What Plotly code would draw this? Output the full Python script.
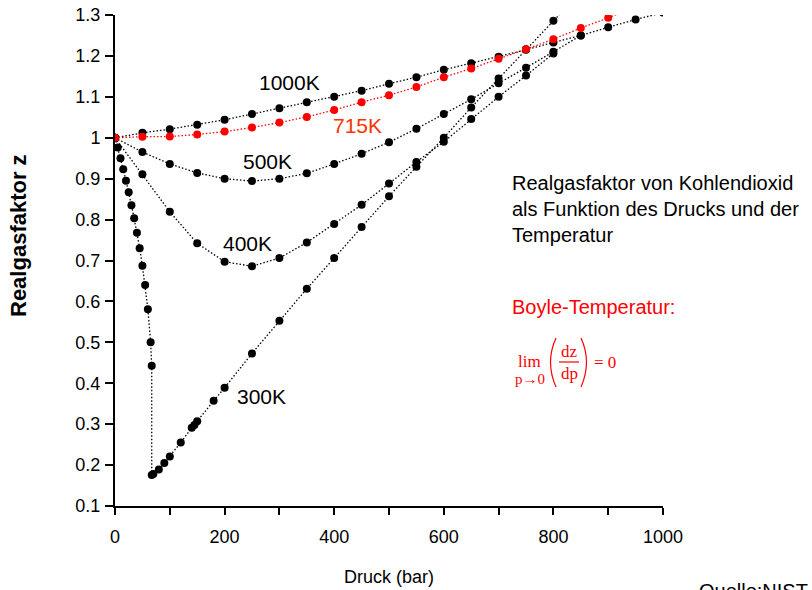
import plotly.graph_objects as go

# ---------------- data ----------------
p_300K = [0, 5, 10, 15, 20, 25, 30, 35, 40, 45, 50, 55, 60, 65, 67,
          67, 70, 80, 90, 100, 120, 140, 145, 150, 180, 200, 250, 300, 350,
          400, 450, 500, 550, 600, 650, 700, 750, 800, 850]
z_300K = [1.0, 0.976, 0.95, 0.923, 0.895, 0.867, 0.835, 0.803, 0.768, 0.73,
          0.687, 0.64, 0.581, 0.50, 0.443,
          0.176, 0.178, 0.189, 0.205, 0.221, 0.255, 0.291, 0.298, 0.307, 0.357,
          0.389, 0.473, 0.553, 0.631, 0.706, 0.782, 0.857, 0.929, 1.0, 1.074,
          1.145, 1.216, 1.286, 1.356]

p_400K = [0, 50, 100, 150, 200, 250, 300, 350, 400, 450, 500, 550, 600, 650,
          700, 750, 800]
z_400K = [1.0, 0.911, 0.819, 0.742, 0.697, 0.686, 0.706, 0.744, 0.789, 0.836,
          0.888, 0.941, 0.99, 1.046, 1.10, 1.152, 1.206]

p_500K = [0, 50, 100, 150, 200, 250, 300, 350, 400, 450, 500, 550, 600, 650,
          700, 750, 800, 850]
z_500K = [1.0, 0.965, 0.936, 0.914, 0.900, 0.894, 0.900, 0.913, 0.936, 0.961,
          0.989, 1.022, 1.058, 1.094, 1.133, 1.171, 1.21, 1.25]

p_1000K = [0, 50, 100, 150, 200, 250, 300, 350, 400, 450, 500, 550, 600, 650,
           700, 750, 800, 850, 900, 950, 1000]
z_1000K = [1.0, 1.012, 1.021, 1.032, 1.044, 1.058, 1.072, 1.087, 1.100, 1.115,
           1.132, 1.148, 1.166, 1.182, 1.198, 1.215, 1.233, 1.25, 1.27, 1.289,
           1.306]

p_715K = [0, 50, 100, 150, 200, 250, 300, 350, 400, 450, 500, 550, 600, 650,
          700, 750, 800, 850, 900, 950]
z_715K = [1.0, 1.0025, 1.003, 1.008, 1.015, 1.025, 1.037, 1.051, 1.068, 1.087,
          1.104, 1.124, 1.148, 1.169, 1.193, 1.216, 1.241, 1.268, 1.293, 1.32]

y_tickvals = [0.1, 0.2, 0.3, 0.4, 0.5, 0.6, 0.7, 0.8, 0.9, 1.0, 1.1, 1.2, 1.3]
y_ticktext = ["0.1", "0.2", "0.3", "0.4", "0.5", "0.6", "0.7", "0.8", "0.9",
              "1", "1.1", "1.2", "1.3"]
x_tickvals = [0, 200, 400, 600, 800, 1000]
x_ticktext = ["0", "200", "400", "600", "800", "1000"]

# ---------------- layout geometry (screen pixels; body margin removed) ----
W, H = 812, 590
SL, SR, ST, SB = 115, 663, 15, 506          # plot area on screen
ML, MT = SL, ST
MR, MB = W - SR, H - SB
PW, PH = SR - SL, SB - ST

def px(x):
    return (x - SL) / PW

def py(y):
    return (SB - y) / PH

FONT = "Liberation Sans, Arial, sans-serif"
SERIF = "Liberation Serif, Times New Roman, serif"
RED = "#FF0000"

fig = go.Figure()

def add_series(p, z, color):
    fig.add_trace(go.Scatter(
        x=p, y=z, mode="lines+markers",
        line=dict(color=color, width=1.3, dash="1.5px,2px"),
        marker=dict(color=color, size=8, line=dict(width=0)),
        showlegend=False, hoverinfo="x+y"))

add_series(p_300K, z_300K, "black")
add_series(p_400K, z_400K, "black")
add_series(p_500K, z_500K, "black")
add_series(p_1000K, z_1000K, "black")
add_series(p_715K, z_715K, RED)

annotations = []
def label(text, x, y, color="black", size=21):
    annotations.append(dict(text=text, x=x, y=y, xref="x", yref="y",
                            showarrow=False, xanchor="center", yanchor="middle",
                            font=dict(family=FONT, size=size, color=color)))

label("1000K", 319, 1.136)
label("715K", 442, 1.029, color="#FF3300")
label("500K", 279, 0.943)
label("400K", 241, 0.7425)
label("300K", 267, 0.3685)

def ptext(text, x, y, size, color="black", family=FONT, xanchor="left",
          yanchor="top", align="left"):
    annotations.append(dict(text=text, x=px(x), y=py(y), xref="paper",
                            yref="paper", showarrow=False, xanchor=xanchor,
                            yanchor=yanchor, align=align,
                            font=dict(family=family, size=size, color=color)))

ptext("Realgasfaktor von Kohlendioxid<br>als Funktion des Drucks und der<br>Temperatur",
      510, 170, 20)
ptext("Boyle-Temperatur:", 510, 294, 20, color=RED)
ptext("lim", 529.5, 361, 17, color=RED, family=SERIF, xanchor="center",
      yanchor="middle")
ptext("p\u21920", 530, 379, 15, color=RED, family=SERIF, xanchor="center",
      yanchor="middle")
ptext("dz", 569, 351, 17, color=RED, family=SERIF, xanchor="center",
      yanchor="middle")
ptext("dp", 569, 373, 17, color=RED, family=SERIF, xanchor="center",
      yanchor="middle")
ptext("= 0", 605, 362, 17, color=RED, family=SERIF, xanchor="center",
      yanchor="middle")
ptext("Quelle:NIST", 697, 578, 20)

annotations.append(dict(text="<b>Realgasfaktor z</b>", x=px(18), y=py(236),
                        xref="paper", yref="paper", showarrow=False,
                        textangle=-90, xanchor="center", yanchor="middle",
                        font=dict(family=FONT, size=22, color="black")))
annotations.append(dict(text="Druck (bar)", x=px(389), y=py(577),
                        xref="paper", yref="paper", showarrow=False,
                        xanchor="center", yanchor="middle",
                        font=dict(family=FONT, size=18, color="black")))

shapes = []
# parentheses of the formula
shapes.append(dict(type="path", xref="paper", yref="paper",
                   path=f"M {px(556)},{py(338)} Q {px(545)},{py(362)} {px(556)},{py(387)}",
                   line=dict(color=RED, width=1.2)))
shapes.append(dict(type="path", xref="paper", yref="paper",
                   path=f"M {px(581)},{py(338)} Q {px(592)},{py(362)} {px(581)},{py(387)}",
                   line=dict(color=RED, width=1.2)))
shapes.append(dict(type="line", xref="paper", yref="paper",
                   x0=px(559), x1=px(579), y0=py(362), y1=py(362),
                   line=dict(color=RED, width=1.2)))

fig.update_layout(
    width=W, height=H,
    margin=dict(l=ML, r=MR, t=MT, b=MB, pad=0, autoexpand=False),
    paper_bgcolor="white", plot_bgcolor="white",
    font=dict(family=FONT, size=18, color="black"),
    annotations=annotations, shapes=shapes,
    showlegend=False,
)
fig.update_xaxes(
    automargin=False,
    range=[0, 1000], showgrid=False, zeroline=False,
    showline=True, linecolor="black", linewidth=2,
    tickmode="array", tickvals=x_tickvals, ticktext=x_ticktext,
    ticks="outside", ticklen=7, tickwidth=2, tickcolor="black",
    ticklabelstandoff=6, ticklabeloverflow="allow",
    tickfont=dict(family=FONT, size=18, color="black"),
    minor=dict(tickmode="array", tickvals=[100, 300, 500, 700, 900],
               ticks="outside", ticklen=7, tickwidth=2, tickcolor="black",
               showgrid=False),
)
fig.update_yaxes(
    automargin=False,
    range=[0.1, 1.3], showgrid=False, zeroline=False,
    showline=True, linecolor="black", linewidth=2,
    tickmode="array", tickvals=y_tickvals, ticktext=y_ticktext,
    ticks="outside", ticklen=8, tickwidth=2, tickcolor="black",
    ticklabelstandoff=1, ticklabeloverflow="allow",
    tickfont=dict(family=FONT, size=18, color="black"),
)

fig.write_html(
    "out.html",
    config={"displayModeBar": False},
    post_script="document.body.style.margin='0px';"
                "document.body.style.overflow='hidden';",
)
